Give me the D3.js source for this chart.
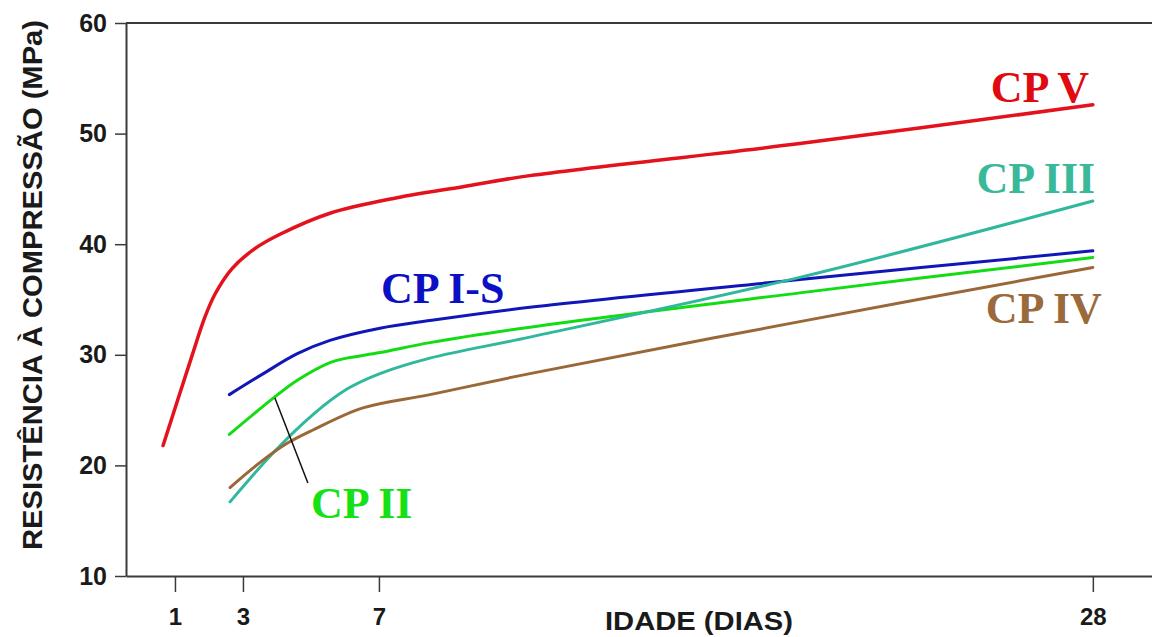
<!DOCTYPE html>
<html>
<head>
<meta charset="utf-8">
<script src="https://cdn.jsdelivr.net/npm/d3@7"></script>
<style>
  html, body { margin: 0; padding: 0; background: #fff; }
  svg { display: block; }
</style>
</head>
<body>
<div id="chart"></div>
<script>
// Idade (dias) e resistência (MPa)
const cpVDays   = [0.65, 1.09, 1.5, 1.88, 2.18, 2.68, 3.35, 4.09, 5.56, 7.53, 9.47, 11.44, 19.38, 28.0];
const cpVMPa    = [21.8, 26.0, 29.9, 33.4, 35.5, 37.8, 39.6, 40.9, 42.8, 44.2, 45.2, 46.2, 49.1, 52.6];

const cpISDays  = [2.6, 3.6, 4.6, 5.56, 7.03, 8.5, 11.44, 19.38, 28.0];
const cpISMPa   = [26.4, 28.3, 30.1, 31.3, 32.4, 33.1, 34.3, 36.8, 39.4];

const cpIIDays  = [2.6, 3.9, 4.6, 5.56, 6.06, 7.03, 8.5, 11.44, 19.38, 28.0];
const cpIIMPa   = [22.8, 26.1, 27.7, 29.3, 29.7, 30.2, 31.1, 32.5, 35.6, 38.8];

const cpIIIDays = [2.62, 3.94, 5.06, 6.06, 7.03, 8.5, 11.44, 19.38, 28.0];
const cpIIIMPa  = [16.7, 21.3, 24.6, 26.9, 28.3, 29.7, 31.6, 37.0, 43.9];

const cpIVDays  = [2.62, 3.6, 4.3, 5.06, 6.53, 8.5, 11.44, 19.38, 28.0];
const cpIVMPa   = [18.0, 20.5, 22.0, 23.2, 25.2, 26.4, 28.3, 33.0, 37.9];

const xTicks = [1, 3, 7, 28];
const yTicks = [10, 20, 30, 40, 50, 60];

const seriesNames = ["CP V", "CP I-S", "CP II", "CP III", "CP IV"];

function init() {
    const width = 1152;
    const height = 637;

    const svg = d3.select("#chart")
        .append("svg")
        .attr("width", width)
        .attr("height", height);

    // scales: the frame runs from x=126 to the right edge of the picture
    const x = d3.scaleLinear().domain([-0.44, 29.74]).range([126, 1152]);
    const y = d3.scaleLinear().domain([10, 60]).range([576, 23]);

    const series = [
        { name: seriesNames[0], days: cpVDays,   mpa: cpVMPa,   color: "#e3121c" },
        { name: seriesNames[1], days: cpISDays,  mpa: cpISMPa,  color: "#1016b8" },
        { name: seriesNames[2], days: cpIIDays,  mpa: cpIIMPa,  color: "#14dc14" },
        { name: seriesNames[3], days: cpIIIDays, mpa: cpIIIMPa, color: "#2fb89c" },
        { name: seriesNames[4], days: cpIVDays,  mpa: cpIVMPa,  color: "#9a6838" }
    ];

    // frame lines (top + bottom run to the edge, no right border)
    const frameColor = "#3a3a3a";
    svg.append("line")
        .attr("x1", x.range()[0]).attr("x2", x.range()[1])
        .attr("y1", y(60)).attr("y2", y(60))
        .attr("stroke", frameColor).attr("stroke-width", 2);

    // y axis
    const yAxis = svg.append("g")
        .attr("transform", `translate(${x.range()[0]},0)`)
        .call(d3.axisLeft(y).tickValues(yTicks).tickSize(11).tickPadding(8).tickSizeOuter(0));
    yAxis.select(".domain").attr("stroke", frameColor).attr("stroke-width", 2);
    yAxis.selectAll(".tick line").attr("stroke", frameColor).attr("stroke-width", 1.5);
    yAxis.selectAll(".tick text")
        .attr("fill", "#1a1a1a")
        .style("font-family", "'Liberation Sans', Arial, sans-serif")
        .style("font-weight", "bold")
        .style("font-size", "25px");

    // x axis
    const xAxis = svg.append("g")
        .attr("transform", `translate(0,${y(10)})`)
        .call(d3.axisBottom(x).tickValues(xTicks).tickSize(16).tickPadding(16).tickSizeOuter(0));
    xAxis.select(".domain").attr("stroke", frameColor).attr("stroke-width", 2);
    xAxis.selectAll(".tick line").attr("stroke", frameColor).attr("stroke-width", 1.5);
    xAxis.selectAll(".tick text")
        .attr("fill", "#1a1a1a")
        .style("font-family", "'Liberation Sans', Arial, sans-serif")
        .style("font-weight", "bold")
        .style("font-size", "24px");

    // axis titles
    svg.append("text")
        .attr("x", 699).attr("y", 630)
        .attr("text-anchor", "middle")
        .attr("textLength", 188).attr("lengthAdjust", "spacingAndGlyphs")
        .attr("fill", "#1a1a1a")
        .style("font-family", "'Liberation Sans', Arial, sans-serif")
        .style("font-weight", "bold")
        .style("font-size", "26px")
        .text("IDADE (DIAS)");

    svg.append("text")
        .attr("transform", "translate(42,285) rotate(-90)")
        .attr("text-anchor", "middle")
        .attr("textLength", 530).attr("lengthAdjust", "spacingAndGlyphs")
        .attr("fill", "#1a1a1a")
        .style("font-family", "'Liberation Sans', Arial, sans-serif")
        .style("font-weight", "bold")
        .style("font-size", "28px")
        .text("RESISTÊNCIA À COMPRESSÃO (MPa)");

    // curves
    const line = d3.line()
        .x(d => x(d[0]))
        .y(d => y(d[1]))
        .curve(d3.curveCatmullRom.alpha(0.5));

    svg.selectAll("path.curve")
        .data(series)
        .enter().append("path")
        .attr("class", "curve")
        .attr("d", s => line(d3.zip(s.days, s.mpa)))
        .attr("fill", "none")
        .attr("stroke", s => s.color)
        .attr("stroke-width", s => s.name === "CP V" ? 3.5 : 3)
        .attr("stroke-linecap", "round");

    // leader line for CP II
    svg.append("line")
        .attr("x1", x(3.94)).attr("y1", y(26.1))
        .attr("x2", x(4.91)).attr("y2", y(18.4))
        .attr("stroke", "#111").attr("stroke-width", 1.5);

    // series labels (position in data units: day, MPa of baseline start)
    const labelPos = [[25.0, 52.86], [7.06, 34.68], [5.0, 15.24], [24.58, 44.63], [24.85, 32.88]];
    const labelColor = ["#e00a10", "#0c10c4", "#16e016", "#3ab89a", "#9a6a3c"];

    svg.selectAll("text.label")
        .data(series)
        .enter().append("text")
        .attr("class", "label")
        .attr("x", (s, i) => x(labelPos[i][0]))
        .attr("y", (s, i) => y(labelPos[i][1]))
        .attr("fill", (s, i) => labelColor[i])
        .style("font-family", "'Liberation Serif', 'Times New Roman', serif")
        .style("font-weight", "bold")
        .style("font-size", "44px")
        .text(s => s.name);
}
window.onload = init;
</script>
</body>
</html>
